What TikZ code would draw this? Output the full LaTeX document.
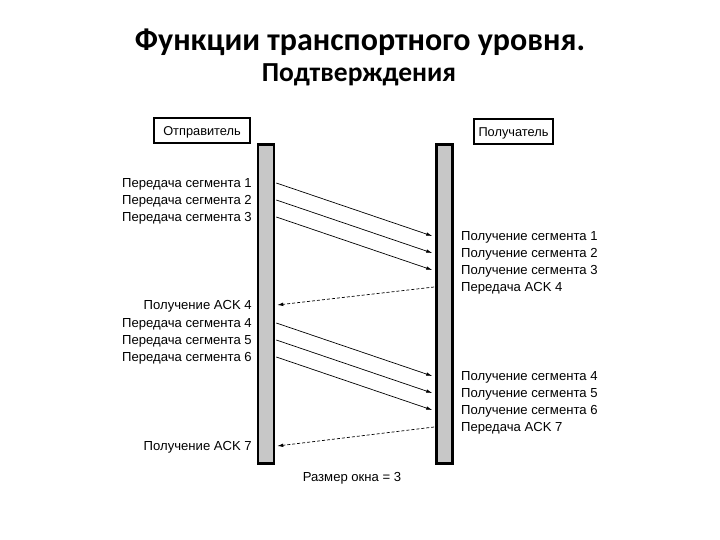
\documentclass[tikz,border=0pt]{standalone}
\usepackage{fontspec}
\setmainfont{Liberation Sans}
\newfontfamily\titlefont{Carlito}
\usetikzlibrary{positioning,arrows.meta,calc}

\begin{document}
\begin{tikzpicture}[
    x=1pt, y=-1pt,
    >={Latex[length=6pt,width=3.6pt]},
    ttl/.style={
        font=\titlefont\bfseries\fontsize{32}{34}\selectfont,
        inner sep=0pt
    },
    subttl/.style={
        font=\titlefont\bfseries\fontsize{27.5}{30}\selectfont,
        inner sep=0pt
    },
    party/.style={
        draw=black, line width=1.1pt,
        minimum height=25pt, inner sep=0pt,
        text height=9.2pt, text depth=0pt,
        font=\fontsize{12.8}{14}\selectfont
    },
    lifeline/.style={
        draw=black, line width=2.6pt,
        fill=black!22,
        minimum width=16pt, minimum height=319pt,
        inner sep=0pt
    },
    lbl/.style={
        font=\fontsize{13.1}{15}\selectfont,
        text height=9.4pt, text depth=0pt,
        inner sep=0pt
    },
    msg/.style={->, line width=0.7pt},
    ack/.style={->, dashed, dash pattern=on 3pt off 2pt, line width=0.7pt}
]
\useasboundingbox (0,0) rectangle (720,540);

% title
\node[ttl] (t1) at (360,42) {Функции транспортного уровня.};
\node[subttl] (t2) at (359,75) {Подтверждения};

% parties and lifelines
\node[party, minimum width=96pt] (snd) at (202,130.5) {Отправитель};
\node[party, minimum width=79pt] (rcv) at (513.5,131.5) {Получатель};
\node[lifeline] (lbar) at (266,304) {};
\node[lifeline] (rbar) at (444.5,304) {};

% sender side
\node[lbl, anchor=east] (ls1) at (252,183) {Передача сегмента 1};
\node[lbl, anchor=east] (ls2) at (252,200) {Передача сегмента 2};
\node[lbl, anchor=east] (ls3) at (252,217) {Передача сегмента 3};
\node[lbl, anchor=east] (la4) at (252,305) {Получение ACK 4};
\node[lbl, anchor=east] (ls4) at (252,323) {Передача сегмента 4};
\node[lbl, anchor=east] (ls5) at (252,340) {Передача сегмента 5};
\node[lbl, anchor=east] (ls6) at (252,357) {Передача сегмента 6};
\node[lbl, anchor=east] (la7) at (252,446) {Получение ACK 7};

% receiver side
\node[lbl, anchor=west] (rr1) at (461,236) {Получение сегмента 1};
\node[lbl, anchor=west] (rr2) at (461,253) {Получение сегмента 2};
\node[lbl, anchor=west] (rr3) at (461,270) {Получение сегмента 3};
\node[lbl, anchor=west] (ra4) at (461,287) {Передача ACK 4};
\node[lbl, anchor=west] (rr4) at (461,376) {Получение сегмента 4};
\node[lbl, anchor=west] (rr5) at (461,393) {Получение сегмента 5};
\node[lbl, anchor=west] (rr6) at (461,410) {Получение сегмента 6};
\node[lbl, anchor=west] (ra7) at (461,427) {Передача ACK 7};

\node[lbl] (win) at (352,477) {Размер окна = 3};

% segments
\foreach \s/\r in {ls1/rr1, ls2/rr2, ls3/rr3, ls4/rr4, ls5/rr5, ls6/rr6}
    \draw[msg] ([xshift=1pt]lbar.east |- \s) -- ([xshift=-3pt]rbar.west |- \r);

% acknowledgements
\draw[ack] ([xshift=-1pt]rbar.west |- ra4) -- ([xshift=2pt]lbar.east |- la4);
\draw[ack] ([xshift=-1pt]rbar.west |- ra7) -- ([xshift=2pt]lbar.east |- la7);

\end{tikzpicture}
\end{document}
